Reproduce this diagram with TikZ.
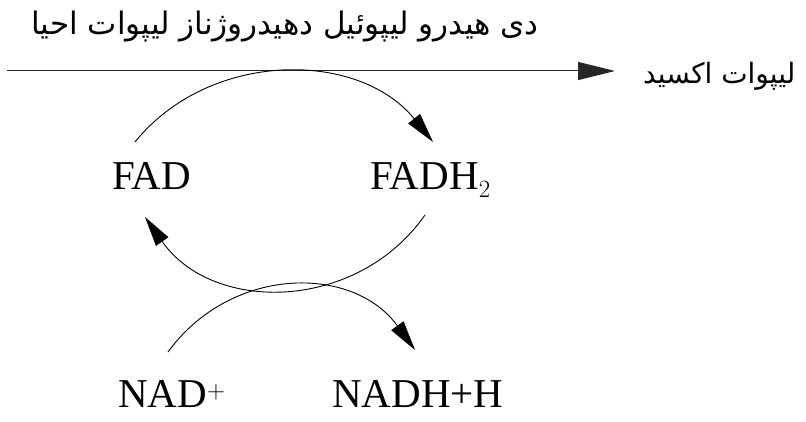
\documentclass[tikz,border=0pt]{standalone}
\usepackage{fontspec}
\setmainfont{Liberation Serif}
\newfontfamily\farsifont[Script=Arabic]{DejaVu Sans}
\TeXXeTstate=1
\usetikzlibrary{arrows.meta, positioning, calc}

\begin{document}
\begin{tikzpicture}[
    x=1pt, y=1pt,
    chem/.style={inner sep=0pt, font=\fontsize{41}{41}\selectfont},
    farsi/.style={inner sep=0pt, font=\farsifont\fontsize{#1}{#1}\selectfont},
    cyc/.style={line width=0.9pt, -{Triangle[length=30pt, width=15pt]}},
    mainarrow/.style={line width=1pt, black!85, -{Triangle[length=37pt, width=18pt]}}
]
\useasboundingbox (0,0) rectangle (806,422);

% Lipoate line
\node[farsi=31] (enzyme) at (285,395) {\beginR دی هیدرو لیپوئیل دهیدروژناز لیپوات احیا\endR};
\coordinate (lipin) at (7,351);
\node[farsi=28, anchor=west] (lipox) at (643,346) {\beginR لیپوات اکسید\endR};

% FAD cycle
\node[chem, anchor=base] (fad) at (151.5,232) {FAD};
\node[chem, anchor=base west] (fadh) at (370,232) {FADH$_2$};

% NAD cycle
\node[chem, anchor=base west] (nad) at (118,14) {NAD$^+$};
\node[chem, anchor=base west] (nadh) at (332,14) {NADH+H};

% Arrows
\draw[mainarrow, shorten >=28pt] (lipin) -- (lipin -| lipox.west);
\draw[cyc] ([shift={(-16.5,48)}]fad.base) to[out=51, in=129, looseness=1.02] ([shift={(63,48)}]fadh.base west);
\draw[cyc] ([shift={(55,-25)}]fadh.base west) to[out=-125, in=-55, looseness=1.08] ([shift={(-6.5,-27)}]fad.base);
\draw[cyc] ([shift={(50,56)}]nad.base west) to[out=54, in=126, looseness=1.1] ([shift={(83,58)}]nadh.base west);

\end{tikzpicture}
\end{document}
